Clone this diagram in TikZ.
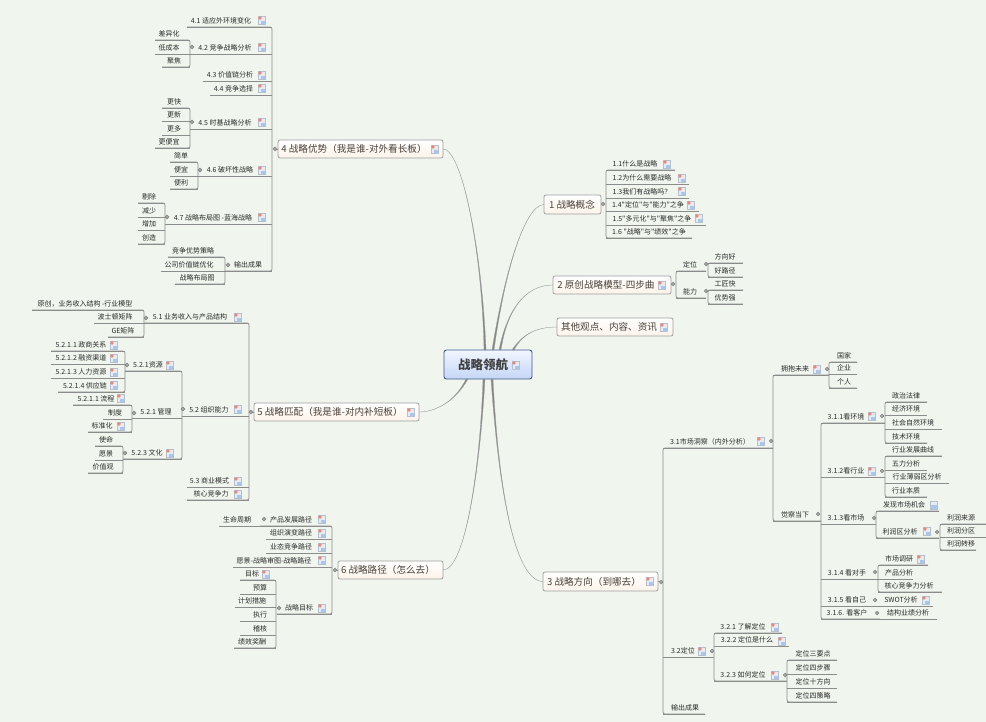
\documentclass[tikz,border=0pt]{standalone}
\usepackage{fontspec}
\setmainfont{Noto Sans CJK SC}[Ligatures=TeXOff]
\usepackage[HTML]{xcolor}
\usepackage{tikz}
\usetikzlibrary{positioning, calc}

\definecolor{paperbg}{HTML}{F0F6EE}
\definecolor{railgray}{HTML}{8C8C8C}
\definecolor{limbgray}{HTML}{858585}
\definecolor{inkdark}{HTML}{2A2A2A}
\definecolor{inkbrown}{HTML}{4A4038}
\definecolor{HTMLcream}{HTML}{FDF3EA}
\definecolor{HTMLnavy}{HTML}{3F5A8C}
\definecolor{HTMLpale}{HTML}{F2F6FF}
\definecolor{HTMLsky}{HTML}{C4D6F6}
\definecolor{HTMLedge}{HTML}{B4C0D0}
\definecolor{HTMLred}{HTML}{EE8576}
\definecolor{HTMLblue}{HTML}{A8C6EE}

\tikzset{
  twignode/.style={inner sep=0pt, outer sep=0pt, minimum height=13pt, text height=6.2pt, text depth=0.8pt,
    text=inkdark, font=\fontsize{7}{8}\selectfont},
  topicnode/.style={inner sep=0pt, outer sep=0pt, draw=black!38, line width=0.8pt, rounded corners=2pt,
    top color=white, bottom color=HTMLcream, text=inkbrown, font=\fontsize{9.6}{11}\selectfont},
  rootnode/.style={inner sep=0pt, outer sep=0pt, draw=HTMLnavy, line width=0.9pt, rounded corners=2.5pt,
    top color=HTMLpale, bottom color=HTMLsky, text=black!75, font=\fontsize{12.5}{14}\bfseries\selectfont},
  knob/.style={circle, inner sep=0pt, minimum size=3.8pt, draw=black!50, fill=black!35, line width=0.5pt},
  rail/.style={draw=railgray, line width=0.7pt, rounded corners=2pt},
  limb/.style={fill=limbgray, draw=limbgray!80, line width=0.3pt},
  docnote/.pic={
    \fill[HTMLedge!30!white] (-3.5,-4) rectangle (3.5,4);
    \fill[HTMLblue] (-1,1) rectangle (3.5,4);
    \draw[draw=HTMLedge, line width=0.35pt] (-3.5,-4) rectangle (3.5,4);
    \fill[HTMLred] (-2,-2) circle (1.9);
  },
  docplain/.pic={
    \fill[HTMLedge!30!white] (-3.5,-4) rectangle (3.5,4);
    \fill[HTMLblue] (-3.5,0) rectangle (3.5,4);
    \draw[draw=HTMLedge, line width=0.35pt] (-3.5,-4) rectangle (3.5,4);
  }
}

% name, left, right, underline y, text centre, text
\newcommand{\twig}[6]{%
  \pgfmathsetmacro{\spanw}{#3-#2}%
  \pgfmathsetmacro{\padw}{#5-#2}%
  \node[twignode, anchor=south west] (#1) at (#2,#4)
    {\hbox to \spanw pt{\kern\padw pt\hbox to 0pt{\hss #6\hss}\hss}};
  \draw[rail] (#1.south west) -- (#1.south east);
}
% name, left, right, top, bottom, text centre, text
\newcommand{\topicbox}[8][topicnode]{%
  \pgfmathsetmacro{\spanw}{#4-#3}%
  \pgfmathsetmacro{\spanh}{#6-#5}%
  \pgfmathsetmacro{\padw}{#7-#3}%
  \node[#1, anchor=north west, minimum height=\spanh pt] (#2) at (#3,#5)
    {\hbox to \spanw pt{\kern\padw pt\hbox to 0pt{\hss #8\hss}\hss}};
}
% bracket closing on the right or on the left of its children
\newcommand{\railL}[2]{\draw[rail] (#1.south west) -- (#1.south east) -- (#2.south east) -- (#2.south west);}
\newcommand{\railR}[2]{\draw[rail] (#1.south east) -- (#1.south west) -- (#2.south west) -- (#2.south east);}
% tapering curve: root side, two controls, topic side
\newcommand{\taper}[4]{\path[limb] ($(#1)+(-1,0)$) .. controls (#2) and (#3) .. (#4) .. controls (#3) and (#2) .. ($(#1)+(1,0)$) -- cycle;}

\begin{document}
\begin{tikzpicture}[x=1pt, y=-1pt]
\useasboundingbox[fill=paperbg] (0,0) rectangle (986,722);

% root and main topics
\topicbox[rootnode]{root}{444}{532}{350}{379}{483}{战略领航}
\topicbox{topicone}{544}{601}{195}{214}{572}{1 战略概念}
\topicbox{topictwo}{553}{671}{276}{294}{606}{2 原创战略模型-四步曲}
\topicbox{topicother}{557}{673}{318}{336}{609}{其他观点、内容、资讯}
\topicbox{topicthree}{543}{658}{572}{591}{594}{3 战略方向（到哪去）}
\topicbox{topicfour}{278}{443}{140}{158}{354}{4 战略优势（我是谁-对外看长板）}
\topicbox{topicfive}{254}{419}{403}{421}{330}{5 战略匹配（我是谁-对内补短板）}
\topicbox{topicsix}{338}{443}{561}{579}{388}{6 战略路径（怎么去）}

% curves leaving the root
\coordinate (rootfour) at (485,350);
\coordinate (rootone) at (493,350);
\coordinate (roottwo) at (500,350);
\coordinate (rootother) at (513,350);
\coordinate (rootfive) at (467,379);
\coordinate (rootsix) at (484,379);
\coordinate (rootthree) at (492,379);
\taper{rootfour}{482,250}{462,149}{topicfour.east}
\taper{rootone}{505,270}{525,205}{topicone.west}
\taper{roottwo}{507,310}{525,285}{topictwo.west}
\taper{rootother}{522,335}{535,327}{topicother.west}
\taper{rootfive}{455,402}{435,412}{topicfive.east}
\taper{rootsix}{480,470}{465,570}{topicsix.east}
\taper{rootthree}{498,480}{513,581}{topicthree.west}

% topic 1
\twig{a11}{606}{675}{170}{635}{1.1什么是战略}
\twig{a12}{606}{689}{184}{642}{1.2为什么需要战略}
\twig{a13}{606}{689}{198}{642}{1.3我们有战略吗？}
\twig{a14}{606}{699}{211}{648}{1.4"定位"与"能力"之争}
\twig{a15}{606}{706}{225}{652}{1.5"多元化"与"聚焦"之争}
\twig{a16}{606}{692}{238}{649}{1.6 "战略"与"绩效"之争}
\railR{a11}{a16}

% topic 2
\twig{b1}{676}{706}{271}{690}{定位}
\twig{b2}{676}{706}{298}{690}{能力}
\railR{b1}{b2}
\twig{b11}{708}{743}{263}{725}{方向好}
\twig{b12}{708}{743}{277}{725}{好路径}
\railR{b11}{b12}
\twig{b21}{708}{743}{290}{725}{工匠快}
\twig{b22}{708}{743}{304}{725}{优势强}
\railR{b21}{b22}

% topic 3
\twig{c31}{663}{773}{448}{710}{3.1市场洞察（内外分析）}
\twig{c32}{663}{714}{657}{683}{3.2定位}
\twig{c33}{663}{705}{714}{685}{输出成果}
\railR{c31}{c33}
\twig{c3a}{773}{829}{375}{795}{拥抱未来}
\twig{c3b}{773}{821}{521}{795}{觉察当下}
\railR{c3a}{c3b}
\twig{ca1}{829}{857}{362}{844}{国家}
\twig{ca2}{829}{857}{374}{844}{企业}
\twig{ca3}{829}{857}{388}{844}{个人}
\railR{ca1}{ca3}
\twig{c311}{821}{885}{423}{846}{3.1.1看环境}
\twig{c312}{821}{885}{477}{846}{3.1.2看行业}
\twig{c313}{821}{876}{524}{846}{3.1.3看市场}
\twig{c314}{821}{878}{579}{847}{3.1.4 看对手}
\twig{c315}{821}{878}{606}{847}{3.1.5 看自己}
\twig{c316}{821}{880}{619}{847}{3.1.6. 看客户}
\railR{c311}{c316}
\twig{e1}{885}{927}{402}{906}{政治法律}
\twig{e2}{885}{927}{415}{906}{经济环境}
\twig{e3}{885}{942}{429}{913}{社会自然环境}
\twig{e4}{885}{927}{443}{906}{技术环境}
\railR{e1}{e4}
\twig{f1}{885}{942}{456}{913}{行业发展曲线}
\twig{f2}{885}{927}{470}{906}{五力分析}
\twig{f3}{885}{949}{483}{917}{行业薄弱区分析}
\twig{f4}{885}{927}{497}{906}{行业本质}
\railR{f1}{f4}
\twig{g1}{876}{939}{511}{904}{发现市场机会}
\twig{g2}{876}{939}{538}{900}{利润区分析}
\railR{g1}{g2}
\twig{g21}{940}{986}{524}{961}{利润来源}
\twig{g22}{940}{986}{537}{961}{利润分区}
\twig{g23}{940}{976}{550}{961}{利润转移}
\railR{g21}{g23}
\twig{h1}{878}{928}{565}{899}{市场调研}
\twig{h2}{878}{913}{579}{899}{产品分析}
\twig{h3}{878}{942}{592}{909}{核心竞争力分析}
\railR{h1}{h3}
\twig{i1}{878}{933}{606}{901}{SWOT分析}
\twig{j1}{880}{937}{619}{908}{结构业绩分析}
\twig{k1}{714}{782}{633}{743}{3.2.1 了解定位}
\twig{k2}{714}{789}{646}{747}{3.2.2 定位是什么}
\twig{k3}{714}{787}{681}{743}{3.2.3 如何定位}
\railR{k1}{k3}
\twig{k31}{787}{837}{660}{813}{定位三要点}
\twig{k32}{787}{837}{674}{813}{定位四步骤}
\twig{k33}{787}{837}{688}{813}{定位十方向}
\twig{k34}{787}{837}{702}{813}{定位四策略}
\railR{k31}{k34}

% topic 4
\twig{d41}{187}{272}{27}{221}{4.1 适应外环境变化}
\twig{d42}{190}{272}{54}{225}{4.2 竞争战略分析}
\twig{d43}{203}{272}{81}{230}{4.3 价值链分析}
\twig{d44}{210}{272}{95}{233.5}{4.4 竞争选择}
\twig{d45}{190}{272}{129}{225}{4.5 时基战略分析}
\twig{d46}{198}{272}{176}{230}{4.6 破坏性战略}
\twig{d47}{165}{272}{224}{213}{4.7 战略布局图 -蓝海战略}
\twig{d48}{225}{272}{271}{248}{输出成果}
\railL{d41}{d48}
\twig{m1}{155}{190}{40}{169}{差异化}
\twig{m2}{155}{190}{54}{169}{低成本}
\twig{m3}{162}{190}{67}{174}{聚焦}
\railL{m1}{m3}
\twig{n1}{162}{190}{108}{174}{更快}
\twig{n2}{162}{190}{121}{174}{更新}
\twig{n3}{162}{190}{135}{174}{更多}
\twig{n4}{155}{190}{148}{169}{更便宜}
\railL{n1}{n4}
\twig{p1}{170}{198}{162}{181}{简单}
\twig{p2}{170}{198}{176}{181}{便宜}
\twig{p3}{170}{198}{189}{181}{便利}
\railL{p1}{p3}
\twig{q1}{138}{165}{203}{149}{剔除}
\twig{q2}{138}{165}{217}{149}{减少}
\twig{q3}{138}{165}{230}{149}{增加}
\twig{q4}{138}{165}{244}{149}{创造}
\railL{q1}{q4}
\twig{r1}{168}{225}{257}{193}{竞争优势策略}
\twig{r2}{161}{225}{271}{189}{公司价值链优化}
\twig{r3}{175}{225}{284}{197}{战略布局图}
\railL{r1}{r3}

% topic 5
\twig{s51}{144}{249}{323}{190}{5.1 业务收入与产品结构}
\twig{s52}{182}{249}{416}{209}{5.2 组织能力}
\twig{s53}{187}{249}{487}{209.5}{5.3 商业模式}
\twig{s54}{187}{249}{500}{211}{核心竞争力}
\railL{s51}{s54}
\twig{t1}{32}{144}{310}{85}{原创，业务收入结构 -行业模型}
\twig{t2}{94}{144}{323}{115}{波士顿矩阵}
\twig{t3}{108}{144}{337}{123}{GE矩阵}
\railL{t1}{t3}
\twig{u1}{125}{182}{371}{148}{5.2.1资源}
\twig{u2}{132}{182}{418}{156}{5.2.1 管理}
\twig{u3}{123}{182}{459}{147}{5.2.3 文化}
\railL{u1}{u3}
\twig{v1}{51}{125}{351}{81}{5.2.1.1 政商关系}
\twig{v2}{51}{125}{364}{81}{5.2.1.2 融资渠道}
\twig{v3}{51}{125}{378}{81}{5.2.1.3 人力资源}
\twig{v4}{58}{125}{392}{85}{5.2.1.4 供应链}
\railL{v1}{v4}
\twig{w1}{73}{132}{405}{96}{5.2.1.1 流程}
\twig{w2}{103}{132}{419}{115}{制度}
\twig{w3}{88}{132}{432}{102}{标准化}
\railL{w1}{w3}
\twig{y1}{95}{123}{446}{106}{使命}
\twig{y2}{95}{123}{460}{106}{愿景}
\twig{y3}{88}{123}{473}{103}{价值观}
\railL{y1}{y3}

% topic 6
\twig{z0}{219}{260}{526}{237}{生命周期}
\twig{z1}{260}{332}{526}{291}{产品发展路径}
\twig{z2}{266}{332}{539}{291}{组织演变路径}
\twig{z3}{266}{332}{553}{291}{业态竞争路径}
\twig{z4}{233}{332}{567}{274}{愿景-战略审图-战略路径}
\twig{z5}{277}{332}{614}{299}{战略目标}
\railL{z1}{z5}
\twig{x1}{240}{276}{580}{252}{目标}
\twig{x2}{240}{276}{594}{260}{预算}
\twig{x3}{235}{276}{607}{252}{计划措施}
\twig{x4}{240}{276}{621}{260}{执行}
\twig{x5}{240}{276}{635}{260}{稽核}
\twig{x6}{234}{276}{648}{252}{绩效奖酬}
\railL{x1}{x6}

% knobs on the main topics, tied to their boxes
\node[knob] (knobone) at (603,204) {};
\node[knob] (knobtwo) at (673,284) {};
\node[knob] (knobthree) at (661,582) {};
\node[knob] (knobfour) at (275,149) {};
\node[knob] (knobfive) at (251,412) {};
\node[knob] (knobsix) at (335,570) {};
\draw[rail] (topicone.east) -- (knobone);
\draw[rail] (topictwo.east) -- (knobtwo);
\draw[rail] (topicthree.east) -- (knobthree);
\draw[rail] (topicfour.west) -- (knobfour);
\draw[rail] (topicfive.west) -- (knobfive);
\draw[rail] (topicsix.west) -- (knobsix);

% knobs on the smaller topics
\foreach \kx/\ky [count=\i] in {192/47, 192/122, 200/170, 167/217, 228/265, 146/318, 183/409, 127/365,
    134/413, 125/453, 264/519, 279/608, 706/264, 706/291, 771/441, 827/369, 818/514, 882/416, 882/471,
    874/518, 937/532, 875/572, 875/600, 877/613, 712/651, 785/675}
  \node[knob] (knob\i) at (\kx,\ky) {};

% note icons
\foreach \ix/\iy in {516/365, 667/164, 682/178, 682/191, 691/205, 699/218, 662/285, 664/327,
    650/581, 761/441, 817/369, 872/416, 872/471, 927/531, 921/559, 926/600, 702/651, 775/627, 782/641, 775/675,
    262/20, 262/47, 262/75, 262/88, 262/122, 262/170, 262/217, 435/149,
    411/412, 238/317, 238/409, 238/481, 238/494, 170/365, 170/453, 114/345, 114/358, 114/372, 114/385, 121/398, 121/426,
    322/519, 322/533, 322/547, 322/560, 322/608, 266/574}
  \pic at (\ix,\iy) {docnote};
\pic at (934,505) {docplain};
\end{tikzpicture}
\end{document}
